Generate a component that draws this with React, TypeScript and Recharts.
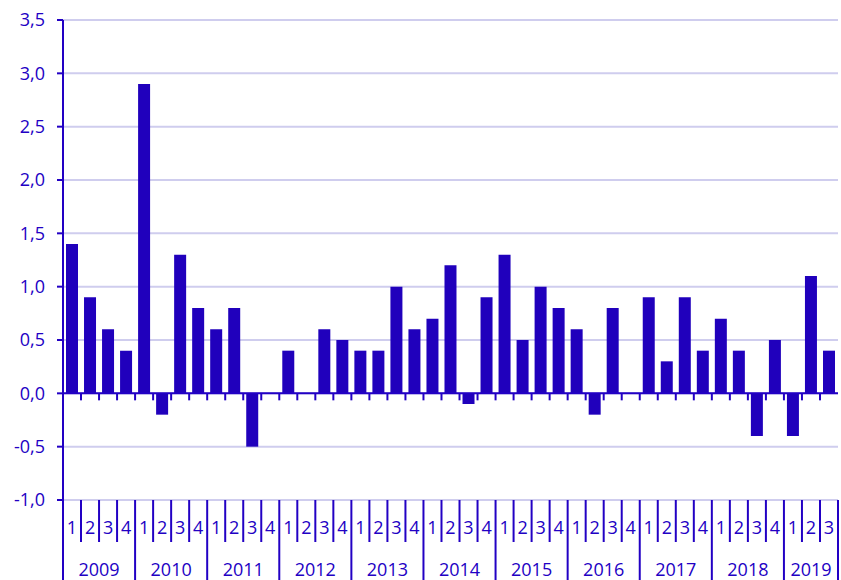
import React from 'react';
import { BarChart, Bar, XAxis, YAxis, CartesianGrid, ReferenceLine } from 'recharts';

const years = ['2009', '2010', '2011', '2012', '2013', '2014', '2015', '2016', '2017', '2018', '2019'];
const quartersPerYear = [4, 4, 4, 4, 4, 4, 4, 4, 4, 4, 3];
const quarterLabels = ['1', '2', '3', '4'];
const values = [
  1.4, 0.9, 0.6, 0.4,
  2.9, -0.2, 1.3, 0.8,
  0.6, 0.8, -0.5, 0,
  0.4, 0, 0.6, 0.5,
  0.4, 0.4, 1.0, 0.6,
  0.7, 1.2, -0.1, 0.9,
  1.3, 0.5, 1.0, 0.8,
  0.6, -0.2, 0.8, 0,
  0.9, 0.3, 0.9, 0.4,
  0.7, 0.4, -0.4, 0.5,
  -0.4, 1.1, 0.4,
];
const yTicks = [-1, -0.5, 0, 0.5, 1, 1.5, 2, 2.5, 3, 3.5];

type Row = { key: string; q: string; year: string; qi: number; yi: number; value: number };
const data: Row[] = [];
{
  let k = 0;
  years.forEach((y, yi) => {
    for (let qi = 0; qi < quartersPerYear[yi]; qi++) {
      data.push({ key: `${y}-${qi + 1}`, q: quarterLabels[qi], year: y, qi, yi, value: values[k] });
      k++;
    }
  });
}

const W = 841;
const H = 580;
const X_AXIS_H = 80;
const M = { top: 20, right: 3, bottom: 0, left: 0 };
const Y_AXIS_W = 63;
const PLOT_L = M.left + Y_AXIS_W;
const PLOT_R = W - M.right;
const PLOT_T = M.top;
const PLOT_B = H - M.bottom - X_AXIS_H;
const Y_MIN = -1;
const Y_MAX = 3.5;
const ZERO_Y = PLOT_T + ((Y_MAX - 0) / (Y_MAX - Y_MIN)) * (PLOT_B - PLOT_T);

const DARK = '#2200c4';
const BAR = '#2000bc';
const GRID = '#cfcdee';
const FONT = '"Open Sans", sans-serif';
const FS = 18;

const XTick = (props: any) => {
  const { x, payload } = props;
  const idx = payload.index;
  const row = data[idx];
  const bw = (PLOT_R - PLOT_L) / data.length;
  const left = x - bw / 2;
  const right = x + bw / 2;
  const isFirst = row.qi === 0;
  const isLast = idx === data.length - 1;
  const count = quartersPerYear[row.yi];
  return (
    <g>
      <line x1={left} x2={left} y1={PLOT_B} y2={isFirst ? H : 542} stroke={DARK} strokeWidth={2} />
      <line x1={left} x2={left} y1={ZERO_Y} y2={ZERO_Y + 7} stroke={DARK} strokeWidth={2} />
      {isLast && <line x1={right} x2={right} y1={PLOT_B} y2={H} stroke={DARK} strokeWidth={2} />}
      <text x={x} y={534} textAnchor="middle" fill={DARK} fontFamily={FONT} fontSize={FS}>{row.q}</text>
      {isFirst && (
        <text x={left + (count * bw) / 2} y={576} textAnchor="middle" fill={DARK} fontFamily={FONT} fontSize={FS}>
          {row.year}
        </text>
      )}
    </g>
  );
};

export default function App() {
  return (
    <div style={{ position: 'absolute', left: 0, top: 0, width: W, height: H, background: '#fff' }}>
      <BarChart width={W} height={H} data={data} margin={M} barSize={12} barCategoryGap={0}>
        <CartesianGrid horizontal vertical={false} stroke={GRID} strokeWidth={2} />
        <XAxis
          dataKey="key"
          interval={0}
          axisLine={false}
          tickLine={false}
          height={X_AXIS_H}
          tick={<XTick />}
        />
        <YAxis
          type="number"
          domain={[Y_MIN, Y_MAX]}
          ticks={yTicks}
          width={Y_AXIS_W}
          axisLine={{ stroke: DARK, strokeWidth: 2 }}
          tickLine={{ stroke: DARK, strokeWidth: 2 }}
          tickSize={6}
          tickMargin={12}
          tick={{ fill: DARK, fontFamily: FONT, fontSize: FS }}
          tickFormatter={(v: number) => v.toFixed(1).replace('.', ',')}
        />
        <ReferenceLine y={0} stroke={DARK} strokeWidth={2} />
        <Bar dataKey="value" fill={BAR} isAnimationActive={false} />
      </BarChart>
    </div>
  );
}
